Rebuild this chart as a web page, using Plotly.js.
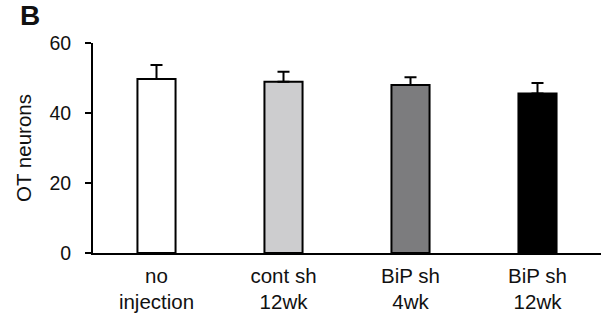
<!DOCTYPE html>
<html>
<head>
<meta charset="utf-8">
<script src="https://cdn.plot.ly/plotly-3.0.1.min.js"></script>
<style>html,body{margin:0;padding:0;background:#fff;}#chart{width:601px;height:322px;}</style>
</head>
<body>
<div id="chart"></div>
<script>
const categories = ["no<br>injection", "cont sh<br>12wk", "BiP sh<br>4wk", "BiP sh<br>12wk"];
const values = [49.7, 48.9, 48.0, 45.6];
const errors = [4.0, 2.9, 2.2, 3.0];
const barColors = ["#ffffff", "#cdcdcf", "#7c7c7e", "#000000"];
const yTicks = [0, 20, 40, 60];

const font = "Liberation Sans, Arial, sans-serif";

const trace = {
  type: "bar",
  x: categories,
  y: values,
  marker: { color: barColors, line: { color: "#000", width: 2 } },
  error_y: { type: "data", array: errors, arrayminus: errors.map(() => 0), symmetric: false, color: "#000", thickness: 2, width: 6 },
  hoverinfo: "none"
};

const layout = {
  width: 601, height: 322,
  margin: { l: 93, r: 0, t: 43, b: 69, pad: 0 },
  paper_bgcolor: "#fff", plot_bgcolor: "#fff",
  showlegend: false,
  bargap: 0.7,
  font: { family: font, color: "#000" },
  xaxis: {
    type: "category",
    range: [-0.5, 3.5],
    showline: true, linecolor: "#000", linewidth: 2,
    ticks: "", showgrid: false, zeroline: false,
    tickfont: { size: 20.5, family: font, color: "#111" },
    ticklabelstandoff: 3
  },
  yaxis: {
    range: [0, 60],
    tickvals: yTicks,
    showline: true, linecolor: "#000", linewidth: 2,
    ticks: "outside", ticklen: 6, tickwidth: 2, tickcolor: "#000",
    showgrid: false, zeroline: false,
    tickfont: { size: 19.5, family: font, color: "#111" },
    ticklabelstandoff: 10,
    title: { text: "OT neurons", font: { size: 20.5, family: font, color: "#111" }, standoff: 12 }
  },
  annotations: [{
    text: "<b>B</b>", xref: "paper", yref: "paper", x: -0.148, y: 1.0, xanchor: "left", yanchor: "bottom",
    showarrow: false, font: { size: 28, family: font, color: "#111" }, yshift: 10
  }]
};

Plotly.newPlot("chart", [trace], layout, { staticPlot: true, displayModeBar: false });
</script>
</body>
</html>
